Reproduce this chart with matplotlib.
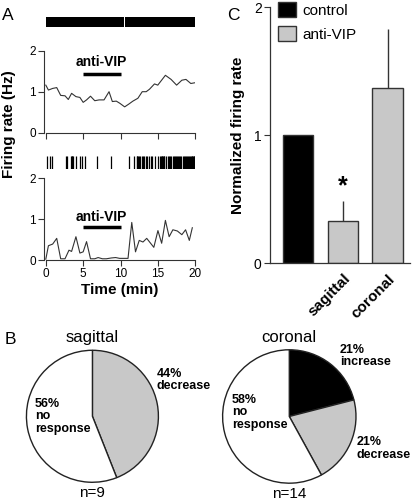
import matplotlib
matplotlib.use("Agg")
import matplotlib.pyplot as plt
from matplotlib.patches import Patch

plt.rcParams['font.family'] = ['Liberation Sans', 'DejaVu Sans']

# --- data ---
# panel A, top cell
top_t = [0, 0.35, 0.92, 1.46, 1.99, 2.57, 3.01, 3.45, 4.03, 4.56, 5.0, 5.45, 5.98, 6.55, 7.13, 7.79,
         8.46, 8.9, 9.43, 9.88, 10.55, 11.12, 11.65, 12.32, 12.9, 13.43, 13.87, 14.54, 14.98, 16.0,
         16.76, 17.5, 18.2, 18.75, 19.4, 20.0]
top_rate = [1.16, 1.04, 1.08, 1.1, 0.91, 0.9, 0.81, 0.96, 0.88, 0.86, 0.74, 0.8, 0.89, 0.78, 0.8, 0.8,
            1.0, 0.76, 0.77, 0.72, 0.63, 0.7, 0.77, 0.84, 1.0, 1.0, 1.06, 1.19, 1.16, 1.4,
            1.3, 1.16, 1.28, 1.3, 1.2, 1.22]
top_raster = [(0, 10.5), (10.6, 9.4)]  # solid spike bands (start, width)

# panel A, bottom cell
bot_t = [0, 0.35, 0.92, 1.46, 1.99, 2.57, 3.1, 3.45, 4.03, 4.56, 5.0, 5.45, 5.98, 6.55, 7.0, 7.57,
         8.1, 8.77, 9.34, 9.88, 10.55, 11.0, 11.5, 12.0, 12.5, 13.0, 13.5, 14.45, 15.0, 15.5,
         16.0, 16.5, 17.0, 17.6, 18.2, 18.7, 19.2, 19.6]
bot_rate = [0.02, 0.35, 0.39, 0.53, 0.03, 0.03, 0.24, 0.21, 0.57, 0.17, 0.2, 0.45, 0.03, 0.03, 0.06, 0.03,
            0.03, 0.05, 0.06, 0.04, 0.04, 0.04, 0.92, 0.2, 0.48, 0.44, 0.53, 0.31, 0.72, 0.41,
            0.97, 0.57, 0.74, 0.71, 0.62, 0.74, 0.48, 0.79]
bot_spikes = [0.21, 0.57, 0.88, 2.70, 2.87, 3.32, 3.45, 3.55, 3.67, 3.99, 4.56, 4.79, 5.30, 6.86, 8.78,
              11.10, 11.74, 12.15, 12.25, 12.35, 12.45, 12.63, 12.90, 13.05, 13.20, 13.43, 13.60, 13.78,
              14.10, 14.25, 14.67, 14.97, 15.30, 15.40, 15.50, 15.60, 15.70, 15.80, 15.87, 16.10, 16.30,
              16.50, 16.65, 16.80, 16.97, 17.10, 17.25, 17.40, 17.55, 17.70, 17.86, 18.00, 18.15, 18.30,
              18.45, 18.60, 18.75, 18.90, 19.05, 19.20, 19.30, 19.40, 19.50, 19.60, 19.70, 19.80, 19.85]
drug_on = [5, 10]

# panel C
groups = ['control', 'sagittal', 'coronal']
norm_rate = [1.0, 0.33, 1.37]
norm_err = [0.0, 0.16, 0.46]

# panel B
sag_pct = [44, 56]
sag_lab = ['44%\ndecrease', '56%\nno\nresponse']
cor_pct = [21, 21, 58]
cor_lab = ['21%\nincrease', '21%\ndecrease', '58%\nno\nresponse']

GRAY = '#c8c8c8'
DARK = '#333333'

fig = plt.figure(figsize=(4.2, 5.03), dpi=100)

def trace_axes(rect, t, rate, xlabels):
    ax = fig.add_axes(rect)
    ax.plot(t, rate, color='#333333', lw=0.8)
    ax.set_xlim(-0.2, 20)
    ax.set_ylim(0, 2)
    ax.set_xticks([0, 5, 10, 15, 20])
    ax.set_yticks([0, 1, 2])
    if not xlabels:
        ax.set_xticklabels([])
    for s in ['top', 'right']:
        ax.spines[s].set_visible(False)
    for s in ['left', 'bottom']:
        ax.spines[s].set_color(DARK)
        ax.spines[s].set_linewidth(0.8)
    ax.spines['bottom'].set_bounds(0, 20)
    ax.tick_params(direction='out', length=4, width=0.8, color=DARK, labelsize=8.5, pad=2)
    return ax

ax1 = trace_axes([0.1055, 0.7362, 0.3595, 0.163], top_t, top_rate, False)
ax1.plot(drug_on, [1.43, 1.43], color='black', lw=2.5, solid_capstyle='butt')
ax1.text(7.4, 1.72, 'anti-VIP', ha='center', va='center', fontsize=10, fontweight='bold')

ax2 = trace_axes([0.1055, 0.4831, 0.3595, 0.1624], bot_t, bot_rate, True)
ax2.plot(drug_on, [0.8, 0.8], color='black', lw=2.5, solid_capstyle='butt')
ax2.text(7.4, 1.06, 'anti-VIP', ha='center', va='center', fontsize=10, fontweight='bold')
ax2.set_xlabel('Time (min)', fontsize=11, fontweight='bold', labelpad=2)

# spike rasters
r1 = fig.add_axes([0.1055, 0.9457, 0.3595, 0.0199])
r1.broken_barh(top_raster, (0, 1), facecolors='black')
r2 = fig.add_axes([0.1055, 0.664, 0.3595, 0.0258])
r2.vlines(bot_spikes, 0, 1, color='black', lw=0.9)
for r in (r1, r2):
    r.set_xlim(-0.2, 20)
    r.set_ylim(0, 1)
    r.set_axis_off()

fig.text(0.022, 0.753, 'Firing rate (Hz)', rotation=90, ha='center', va='center',
         fontsize=11, fontweight='bold')

# panel C bars
axc = fig.add_axes([0.6429, 0.4765, 0.3333, 0.509])
x = list(range(len(groups)))
axc.bar(x, norm_rate, width=0.68, color=['black', GRAY, GRAY], edgecolor=DARK, linewidth=1)
axc.errorbar(x[1:], norm_rate[1:], yerr=[[0, 0], norm_err[1:]], fmt='none', ecolor=DARK,
             elinewidth=1, capsize=0)
axc.text(1, 0.6, '*', ha='center', va='center', fontsize=18, fontweight='bold')
axc.set_xlim(-0.63, 2.5)
axc.set_ylim(0, 2)
axc.set_yticks([0, 1, 2])
axc.set_xticks(x[1:])
axc.set_xticklabels(groups[1:], rotation=45, ha='right', va='top', rotation_mode='anchor',
                    fontsize=11, fontweight='bold')
for s in ['top', 'right']:
    axc.spines[s].set_visible(False)
for s in ['left', 'bottom']:
    axc.spines[s].set_color(DARK)
    axc.spines[s].set_linewidth(0.9)
axc.tick_params(axis='y', direction='out', length=4, width=0.8, color=DARK, labelsize=10, pad=2)
axc.tick_params(axis='x', length=0, pad=6)
axc.set_ylabel('Normalized firing rate', fontsize=11, fontweight='bold', labelpad=6)
leg = axc.legend(handles=[Patch(facecolor='black', edgecolor=DARK, label='control'),
                          Patch(facecolor=GRAY, edgecolor=DARK, label='anti-VIP')],
                 loc='upper left', bbox_to_anchor=(0.06, 1.02), frameon=False, fontsize=11,
                 handlelength=1.15, handleheight=1.15, handletextpad=0.4, labelspacing=0.55,
                 borderpad=0, borderaxespad=0)

# panel B pies
def pie_axes(rect, pct, colors, labels, label_xy, title, n):
    ax = fig.add_axes(rect)
    ax.pie(pct, colors=colors, startangle=90, counterclock=False,
           wedgeprops=dict(edgecolor='#222222', linewidth=1))
    ax.set_xlim(-1, 1)
    ax.set_ylim(-1, 1)
    ax.set_axis_off()
    for lab, (lx, ly) in zip(labels, label_xy):
        ax.text(lx, ly, lab, ha='left', va='center', fontsize=9, fontweight='bold',
                linespacing=1.05, clip_on=False)
    ax.text(0, 1.19, title, ha='center', va='center', fontsize=12, clip_on=False)
    ax.text(0, -1.16, n, ha='center', va='center', fontsize=11, clip_on=False)
    return ax

pie_axes([0.0629, 0.0412, 0.3143, 0.2624], sag_pct, [GRAY, 'white'], sag_lab,
         [(0.97, 0.55), (-0.87, 0.0)], 'sagittal', 'n=9')
pie_axes([0.53, 0.0394, 0.3176, 0.2652], cor_pct, ['black', GRAY, 'white'], cor_lab,
         [(0.76, 0.91), (1.01, -0.48), (-0.86, 0.06)], 'coronal', 'n=14')

fig.text(0.005, 0.985, 'A', fontsize=12.5, va='top', ha='left')
fig.text(0.54, 0.985, 'C', fontsize=12.5, va='top', ha='left')
fig.text(0.01, 0.34, 'B', fontsize=12.5, va='top', ha='left')

fig.savefig('out.png', dpi=100)
